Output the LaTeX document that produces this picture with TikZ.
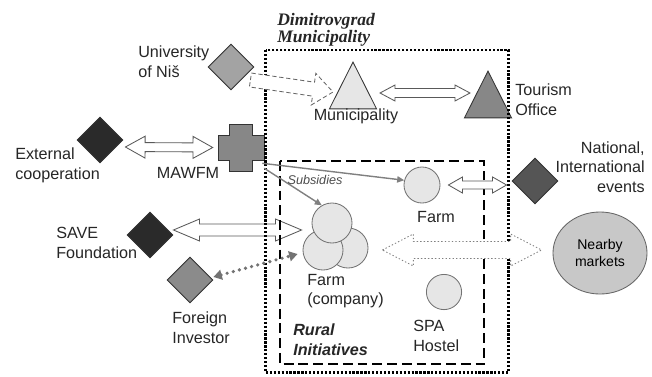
\documentclass[tikz,border=0pt]{standalone}
\usepackage{fontspec}
\setmainfont{Liberation Sans}
\newfontfamily\dimfont{Liberation Serif}
\usepackage{tikz}
\usetikzlibrary{arrows.meta, calc, shapes.geometric}
\definecolor{shadelight}{HTML}{E6E6E6}
\definecolor{shademid}{HTML}{A3A3A3}
\definecolor{shadedark}{HTML}{878787}
\definecolor{shadedeep}{HTML}{555555}
\definecolor{shadeblack}{HTML}{2A2A2A}
\definecolor{shademarket}{HTML}{C8C8C8}

\begin{document}
\begin{tikzpicture}[x=0.025cm, y=-0.025cm,
    font=\fontsize{11.5}{14}\selectfont,
    txt/.style = {inner sep=0pt, align=left, text=black!85},
    dotbox/.style = {line width=1.6pt, dash pattern=on 1.6pt off 1.2pt},
    dashbox/.style = {line width=1.3pt, dash pattern=on 7pt off 3.5pt},
    hollowline/.style = {draw=black!65, fill=white, line width=0.6pt},
    ]
        \tikzset{DiamondStyle/.style = {diamond, draw=black!80, line width=0.6pt, minimum width=1.15cm, minimum height=1.15cm, inner sep=0}}
        \tikzset{TriangleStyle/.style = {isosceles triangle, isosceles triangle stretches, shape border rotate=90, draw=black!80, line width=0.6pt, minimum width=1.18cm, minimum height=1.17cm, inner sep=0, anchor=apex}}
        \tikzset{CircleStyle/.style = {circle, draw=black!55, fill=shadelight, line width=0.6pt, minimum size=#1, inner sep=0}}
        \tikzset{CrossStyle/.style = {rectangle, minimum width=1.15cm, minimum height=1.175cm, inner sep=0}}
        \tikzset{subsidy/.style = {draw=black!50, line width=1pt, -{Triangle[length=5pt,width=4.5pt]}}}
        \tikzset{dotarrow/.style = {draw=black!55, line width=2.6pt, dash pattern=on 0pt off 4.5pt, line cap=round, {Triangle[length=6pt,width=7pt]}-{Triangle[length=6pt,width=7pt]}}}
        \tikzset{fatboth/.style n args={3}{to path={
            -- ($(\tikztostart)!#1!(\tikztotarget)!#2!90:(\tikztotarget)$)
            -- ($(\tikztostart)!#1!(\tikztotarget)!#3!90:(\tikztotarget)$)
            -- ($(\tikztotarget)!#1!(\tikztostart)!#3!-90:(\tikztostart)$)
            -- ($(\tikztotarget)!#1!(\tikztostart)!#2!-90:(\tikztostart)$)
            -- (\tikztotarget)
            -- ($(\tikztotarget)!#1!(\tikztostart)!#2!90:(\tikztostart)$)
            -- ($(\tikztotarget)!#1!(\tikztostart)!#3!90:(\tikztostart)$)
            -- ($(\tikztostart)!#1!(\tikztotarget)!#3!-90:(\tikztotarget)$)
            -- ($(\tikztostart)!#1!(\tikztotarget)!#2!-90:(\tikztotarget)$)
            -- cycle}}}
        \tikzset{fatone/.style n args={3}{to path={
            -- ($(\tikztostart)!#3!90:(\tikztotarget)$)
            -- ($(\tikztotarget)!#1!(\tikztostart)!#3!-90:(\tikztostart)$)
            -- ($(\tikztotarget)!#1!(\tikztostart)!#2!-90:(\tikztostart)$)
            -- (\tikztotarget)
            -- ($(\tikztotarget)!#1!(\tikztostart)!#2!90:(\tikztostart)$)
            -- ($(\tikztotarget)!#1!(\tikztostart)!#3!90:(\tikztostart)$)
            -- ($(\tikztostart)!#3!-90:(\tikztotarget)$)
            -- cycle}}}
    \useasboundingbox (0,0) rectangle (652,376);

    \node[DiamondStyle, fill=shademid] at (231,67) (univ) {};
    \node[DiamondStyle, fill=shadeblack] at (100,140) (ext) {};
    \node[DiamondStyle, fill=shadedeep] at (535,181) (nat) {};
    \node[DiamondStyle, fill=shadeblack] at (150,235) (save) {};
    \node[DiamondStyle, fill=shademid!85!black] at (190,280) (forn) {};
    \node[TriangleStyle, fill=shadelight] at (353,61) (mun) {};
    \node[TriangleStyle, fill=shadedark] at (488,70) (tour) {};
    \node[CrossStyle] at (241,147.5) (maw) {};
    \draw[shift={(maw.center)}, draw=black!80, fill=shadedark, line width=0.6pt]
        (-11.5,-23.5) -- (11.5,-23.5) -- (11.5,-12.5) -- (23,-12.5) -- (23,12.5) -- (11.5,12.5)
        -- (11.5,23.5) -- (-11.5,23.5) -- (-11.5,12.5) -- (-23,12.5) -- (-23,-12.5) -- (-11.5,-12.5) -- cycle;
    \node[CircleStyle=0.9cm] at (422,185) (farm) {};
    \node[CircleStyle=0.88cm] at (444,292) (spa) {};
    \node[CircleStyle=1cm] at (348,248) (fc3) {};
    \node[CircleStyle=1cm] at (323,250) (fc2) {};
    \node[CircleStyle=1cm] at (332,223) (fc1) {};
    \node[ellipse, draw=black!60, fill=shademarket, line width=0.6pt, minimum width=2.35cm, minimum height=2.05cm,
          inner sep=0, align=center, font=\fontsize{10}{12.5}\selectfont] at (600,253) (market) {Nearby\\markets};

    \draw[hollowline] ($(save.east)+(0,-5)$) to[fatboth={18.5pt}{7.8pt}{4.3pt}] ($(fc1.west)+(-10,7)$);

    \draw[dotbox] (265.5,50) rectangle (508.5,372.5);
    \draw[dashbox] (280,161) rectangle (484,364);

    \draw[hollowline] ($(ext.east)+(2,7)$) to[fatboth={14pt}{7.8pt}{3.2pt}] ($(maw.west)+(-5,0)$);
    \draw[hollowline, draw=black!60, dash pattern=on 3pt off 2pt] ($(univ.east)+(-4,13)$) to[fatone={14pt}{11.4pt}{5pt}] ($(mun.apex)+(-20,31)$);
    \draw[hollowline] ($(mun.apex)+(27,32)$) to[fatboth={10.7pt}{5.7pt}{3.2pt}] ($(tour.apex)+(-18,23)$);
    \draw[hollowline] ($(farm.east)+(8,0)$) to[fatboth={10pt}{5.7pt}{2.8pt}] ($(nat.west)+(-5,4)$);
    \draw[hollowline, draw=black!50, dash pattern=on 1pt off 1.5pt] ($(fc3.east)+(14,2)$) to[fatboth={22pt}{11.4pt}{6pt}] ($(market.west)+(-11,-3)$);
    \draw[dotarrow] ($(forn.east)+(0,-3)$) -- ($(fc2.west)+(-5,4)$);
    \draw[subsidy] ($(maw.south east)+(-2,-8)$) -- (farm.165);
    \draw[subsidy] ($(maw.south east)+(0,-3)$) -- (fc1.120);

    \node[txt, anchor=west] at (138,62) (univtxt) {University\\of Niš};
    \node[txt, anchor=west] at (15,165) (exttxt) {External\\cooperation};
    \node[txt] at (188,173) (mawtxt) {MAWFM};
    \node[txt] at (356,116) (muntxt) {Municipality};
    \node[txt, anchor=west] at (515,100) (tourtxt) {Tourism\\Office};
    \node[txt, anchor=east, align=right] at (645,167) (nattxt) {National,\\International\\events};
    \node[txt, anchor=west] at (56,243) (savetxt) {SAVE\\Foundation};
    \node[txt, anchor=west] at (172,328) (forntxt) {Foreign\\Investor};
    \node[txt] at (436,217) (farmtxt) {Farm};
    \node[txt, anchor=west] at (307,291) (fctxt) {Farm\\(company)};
    \node[txt, anchor=west] at (413,336) (spatxt) {SPA\\Hostel};
    \node[txt, anchor=west, font=\fontsize{11.5}{14}\selectfont\bfseries\itshape] at (293,340) (ruraltxt) {Rural\\Initiatives};
    \node[txt, anchor=west, font=\dimfont\fontsize{12.5}{12.5}\selectfont\bfseries\itshape] at (277,30) (dimtxt) {Dimitrovgrad\\Municipality};
    \node[txt, text=black!70, font=\fontsize{9}{10}\selectfont\itshape] at (315,180) (subtxt) {Subsidies};

\end{tikzpicture}
\end{document}
